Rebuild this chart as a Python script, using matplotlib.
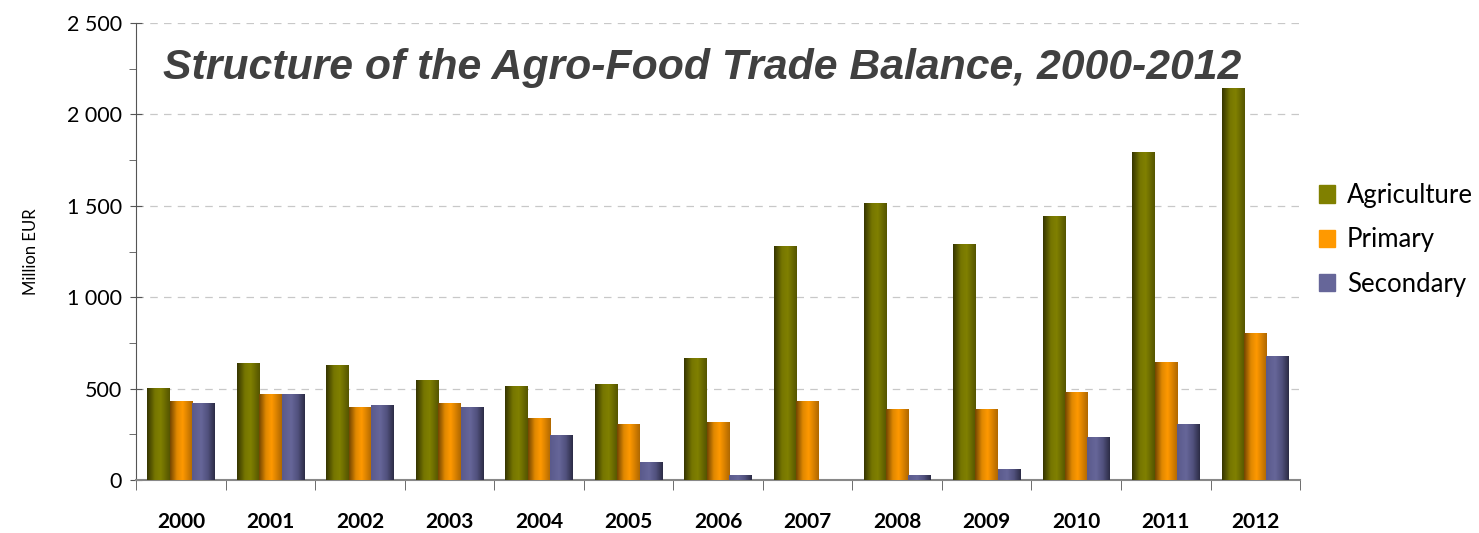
import matplotlib
matplotlib.use('Agg')
import matplotlib.pyplot as plt
from matplotlib.colors import LinearSegmentedColormap
from matplotlib.patches import Patch
import numpy as np

# Agro-food trade balance, million EUR
years = ['2000', '2001', '2002', '2003', '2004', '2005', '2006',
         '2007', '2008', '2009', '2010', '2011', '2012']
agriculture = [503, 640, 624, 547, 514, 525, 662, 1275, 1515, 1286, 1439, 1794, 2139]
primary = [432, 470, 399, 421, 339, 306, 317, 432, 388, 388, 476, 645, 799]
secondary = [421, 470, 410, 399, 241, 93, 22, 0, 22, 60, 230, 306, 673]

plt.rcParams['font.family'] = ['Lato', 'DejaVu Sans']

fig = plt.figure(figsize=(14.79, 5.33), dpi=100)
ax = fig.add_axes([0.092, 0.0994, 0.787, 0.8574])

# gradient shading, like the original office chart
cmaps = [
    LinearSegmentedColormap.from_list('agri', [(0, '#363600'), (0.35, '#767600'), (0.6, '#808000'), (1, '#555500')]),
    LinearSegmentedColormap.from_list('prim', [(0, '#744600'), (0.3, '#e08800'), (0.55, '#ff9900'), (1, '#b06800')]),
    LinearSegmentedColormap.from_list('sec', [(0, '#5a5a8c'), (0.4, '#666699'), (0.7, '#51517d'), (1, '#2c2c46')]),
]
solid = ['#808000', '#ff9900', '#666699']
labels = ['Agriculture', 'Primary', 'Secondary']
series = [agriculture, primary, secondary]

x = np.arange(len(years))
w = 0.25
grad = np.linspace(0, 1, 64).reshape(1, -1)
for i, vals in enumerate(series):
    bars = ax.bar(x + (i - 1) * w, vals, w, color=solid[i], zorder=2)
    for b in bars:
        if b.get_height() <= 0:
            continue
        x0, y0 = b.get_x(), b.get_y()
        ax.imshow(grad, extent=[x0, x0 + b.get_width(), y0, y0 + b.get_height()],
                  aspect='auto', cmap=cmaps[i], zorder=3, interpolation='bilinear')

ax.set_xlim(-0.5, len(years) - 0.5)
ax.set_ylim(0, 2500)
ax.set_yticks(np.arange(0, 2501, 500))
ax.set_yticks(np.arange(250, 2500, 500), minor=True)
ax.set_yticklabels([f'{v:,}'.replace(',', ' ') for v in range(0, 2501, 500)], fontsize=15.5)
ax.set_xticks(x)
ax.set_xticklabels(years, fontsize=15, fontweight='bold')
ax.set_xticks(np.arange(-0.5, len(years)), minor=True)
ax.tick_params(axis='x', which='major', length=0, pad=23)
ax.tick_params(axis='x', which='minor', length=7, color='#555555', direction='out')
ax.tick_params(axis='y', which='major', length=8, color='#555555', direction='inout', pad=6)
ax.tick_params(axis='y', which='minor', length=5, color='#555555', direction='out')
ax.grid(axis='y', color='#c8c8c8', linestyle=(0, (6, 5)), linewidth=0.9, zorder=0)
ax.set_axisbelow(True)
for s in ['top', 'right']:
    ax.spines[s].set_visible(False)
ax.spines['left'].set_color('#555555')
ax.spines['bottom'].set_color('#888888')
ax.spines['bottom'].set_linewidth(1.5)
ax.set_ylabel('Million EUR', fontsize=12, labelpad=20)

fig.text(0.475, 1 - 68 / 533, 'Structure of the Agro-Food Trade Balance, 2000-2012',
         family='Liberation Sans', fontsize=30.8, fontweight='bold', style='italic',
         color='#404040', ha='center', va='center')

handles = [Patch(color=c) for c in solid]
fig.legend(handles, labels, loc='center left', bbox_to_anchor=(0.876, 0.55), frameon=False,
           fontsize=18.5, handlelength=0.65, handleheight=0.65, handletextpad=0.45, labelspacing=0.75)

plt.savefig('out.png', dpi=100)
